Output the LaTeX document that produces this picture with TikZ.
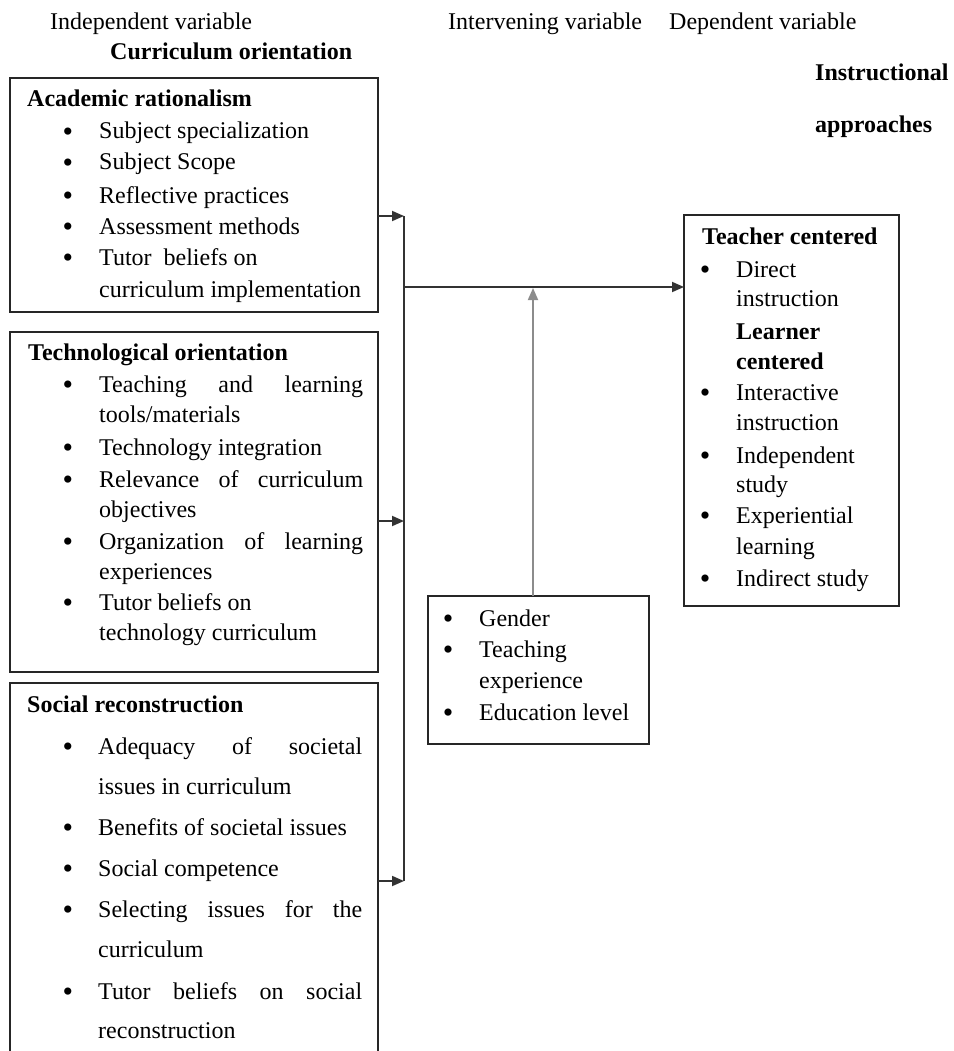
\documentclass[tikz,border=0pt]{standalone}
\usepackage{fontspec}
\setmainfont{Liberation Serif}
\usetikzlibrary{arrows.meta}
\newcommand{\bigbul}{{\fontsize{30}{30}\selectfont\raisebox{-2.5pt}{\textbullet}}}
\begin{document}
\begin{tikzpicture}[x=1pt,y=-1pt,
  box/.style={draw=black!85, line width=1.7pt, anchor=north west, inner sep=0pt, outer sep=0pt, fill=none},
  txt/.style={anchor=west, inner sep=0pt, font=\fontsize{24}{28}\selectfont, text height=17pt, text depth=3pt},
  bft/.style={txt, font=\fontsize{24}{28}\selectfont\bfseries},
  bul/.style={txt, anchor=center},
  conn/.style={draw=black!80, line width=1.8pt},
  arr/.style={conn, -{Triangle[length=12pt,width=10pt]}},
  garr/.style={draw=black!45, line width=1.8pt, -{Triangle[length=12pt,width=10pt]}},
]
\useasboundingbox (0,0) rectangle (953,1051);
\clip (0,0) rectangle (953,1051);

% headers
\node[txt] (hind) at (50,23) {Independent variable};
\node[bft] (hcur) at (110,53) {Curriculum orientation};
\node[txt] (hint) at (448,23) {Intervening variable};
\node[txt] (hdep) at (669,23) {Dependent variable};
\node[bft] (hins) at (815,74) {Instructional};
\node[bft] (happ) at (815,126) {approaches};

% boxes
\node[box, minimum width=368pt, minimum height=234pt] (ar) at (10,78) {};
\node[box, minimum width=368pt, minimum height=340pt] (to) at (10,332) {};
\node[box, minimum width=368pt, minimum height=400pt] (sr) at (10,683) {};
\node[box, minimum width=221pt, minimum height=148pt] (iv) at (428,596) {};
\node[box, minimum width=215pt, minimum height=391pt] (tc) at (684,215) {};

% Academic rationalism
\node[bft] (ar0) at (27,100) {Academic rationalism};
\node[bul] (arb1) at (68,132) {\bigbul};
\node[txt] (ar1) at (99,132) {Subject specialization};
\node[bul] (arb2) at (68,163) {\bigbul};
\node[txt] (ar2) at (99,163) {Subject Scope};
\node[bul] (arb3) at (68,196) {\bigbul};
\node[txt] (ar3) at (99,196) {Reflective practices};
\node[bul] (arb4) at (68,227) {\bigbul};
\node[txt] (ar4) at (99,227) {Assessment methods};
\node[bul] (arb5) at (68,258) {\bigbul};
\node[txt] (ar5) at (99,258) {Tutor\ \ beliefs on};
\node[txt] (ar6) at (99,290) {curriculum implementation};

% Technological orientation
\node[bft] (to0) at (28,353) {Technological orientation};
\node[bul] (tob1) at (68,385) {\bigbul};
\node[txt] (to1) at (99,385) {\makebox[264pt][s]{Teaching and learning}};
\node[txt] (to1b) at (99,415) {tools/materials};
\node[bul] (tob2) at (68,448) {\bigbul};
\node[txt] (to2) at (99,448) {Technology integration};
\node[bul] (tob3) at (68,480) {\bigbul};
\node[txt] (to3) at (99,480) {\makebox[264pt][s]{Relevance of curriculum}};
\node[txt] (to3b) at (99,510) {objectives};
\node[bul] (tob4) at (68,542) {\bigbul};
\node[txt] (to4) at (99,542) {\makebox[264pt][s]{Organization of learning}};
\node[txt] (to4b) at (99,572) {experiences};
\node[bul] (tob5) at (68,603) {\bigbul};
\node[txt] (to5) at (99,603) {Tutor beliefs on};
\node[txt] (to5b) at (99,633) {technology curriculum};

% Social reconstruction
\node[bft] (sr0) at (27,705) {Social reconstruction};
\node[bul] (srb1) at (68,747) {\bigbul};
\node[txt] (sr1) at (98,747) {\makebox[264pt][s]{Adequacy of societal}};
\node[txt] (sr1b) at (98,787) {issues in curriculum};
\node[bul] (srb2) at (68,828) {\bigbul};
\node[txt] (sr2) at (98,828) {Benefits of societal issues};
\node[bul] (srb3) at (68,869) {\bigbul};
\node[txt] (sr3) at (98,869) {Social competence};
\node[bul] (srb4) at (68,910) {\bigbul};
\node[txt] (sr4) at (98,910) {\makebox[264pt][s]{Selecting issues for the}};
\node[txt] (sr4b) at (98,950) {curriculum};
\node[bul] (srb5) at (68,992) {\bigbul};
\node[txt] (sr5) at (98,992) {\makebox[264pt][s]{Tutor beliefs on social}};
\node[txt] (sr5b) at (98,1031) {reconstruction};

% Intervening
\node[bul] (ivb1) at (448,619) {\bigbul};
\node[txt] (iv1) at (479,619) {Gender};
\node[bul] (ivb2) at (448,650) {\bigbul};
\node[txt] (iv2) at (479,650) {Teaching};
\node[txt] (iv2b) at (479,681) {experience};
\node[bul] (ivb3) at (448,713) {\bigbul};
\node[txt] (iv3) at (479,713) {Education level};

% Teacher / learner centered
\node[bft] (tc0) at (702,237) {Teacher centered};
\node[bul] (tcb1) at (705,270) {\bigbul};
\node[txt] (tc1) at (736,270) {Direct};
\node[txt] (tc1b) at (736,299) {instruction};
\node[bft] (tc2) at (736,332) {Learner};
\node[bft] (tc2b) at (736,362) {centered};
\node[bul] (tcb3) at (705,393) {\bigbul};
\node[txt] (tc3) at (736,393) {Interactive};
\node[txt] (tc3b) at (736,423) {instruction};
\node[bul] (tcb4) at (705,456) {\bigbul};
\node[txt] (tc4) at (736,456) {Independent};
\node[txt] (tc4b) at (736,485) {study};
\node[bul] (tcb5) at (705,516) {\bigbul};
\node[txt] (tc5) at (736,516) {Experiential};
\node[txt] (tc5b) at (736,547) {learning};
\node[bul] (tcb6) at (705,579) {\bigbul};
\node[txt] (tc6) at (736,579) {Indirect study};

% connectors
\coordinate (j1) at (404,216);
\coordinate (j2) at (404,521);
\coordinate (j3) at (404,881);
\coordinate (jm) at (404,287);
\draw[conn] (j1) -- (j3);
\draw[arr] (ar.east |- j1) -- (j1);
\draw[arr] (to.east |- j2) -- (j2);
\draw[arr] (sr.east |- j3) -- (j3);
\draw[arr] (jm) -- (tc.west |- jm);
\draw[garr] (iv.north -| 533,0) -- (533,288);
\end{tikzpicture}
\end{document}
